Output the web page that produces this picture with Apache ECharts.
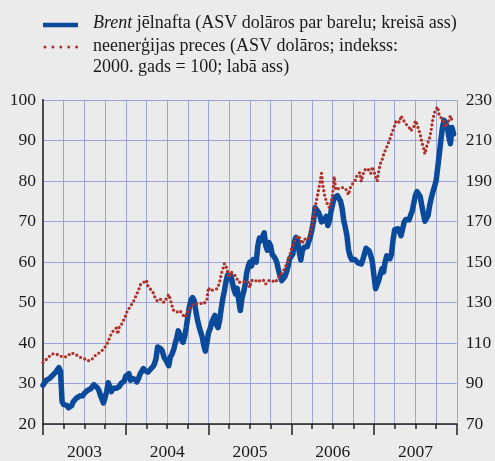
<!DOCTYPE html>
<html>
<head>
<meta charset="utf-8">
<script src="https://cdn.jsdelivr.net/npm/echarts@6/dist/echarts.min.js"></script>
<style>
html, body { margin: 0; padding: 0; background: #ebebeb; }
#chart { width: 495px; height: 461px; }
</style>
</head>
<body>
<div id="chart"></div>
<script>
// gadi uz x ass
var years = [2003, 2004, 2005, 2006, 2007];

// Brent jēlnafta, ASV dolāri par barelu (nedēļas dati, kreisā ass)
var brent2003 = [29.6, 30.2, 30.8, 30.4, 31.2, 31.6, 32.0, 32.4, 32.8, 33.4, 33.9, 33.0, 25.5, 24.8, 25.0, 24.6, 24.0, 23.6, 24.5, 25.5,
    25.8, 26.4, 26.2, 26.9, 27.2, 27.0, 27.6, 28.0, 28.3, 28.0, 28.7, 29.0, 29.7, 29.5, 29.0, 28.4, 27.2, 26.2, 25.2, 26.5,
    28.0, 30.2, 30.0, 28.0, 28.8, 29.2, 28.8, 28.5, 29.3, 30.0, 30.3, 30.6];
var brent2004 = [31.8, 32.2, 32.4, 30.8, 31.3, 31.6, 31.0, 30.4, 31.2, 32.3, 33.0, 33.7, 33.2, 33.3, 32.8, 33.3, 33.6, 34.1, 34.8, 36.1,
    39.0, 39.2, 38.6, 38.0, 36.5, 36.3, 35.2, 34.4, 36.5, 37.2, 38.2, 39.8, 41.2, 43.0, 42.0, 40.8, 40.2, 41.6, 43.8, 46.5,
    49.0, 50.6, 51.2, 50.5, 48.0, 45.8, 44.2, 42.8, 41.6, 39.5, 38.0, 40.0];
var brent2005 = [42.5, 43.5, 45.0, 46.0, 46.8, 44.5, 43.8, 45.6, 48.5, 51.0, 52.9, 55.2, 56.8, 56.0, 56.6, 55.0, 53.2, 52.1, 53.5, 50.5,
    48.0, 51.0, 52.5, 54.2, 57.3, 59.0, 60.0, 59.0, 60.6, 60.3, 60.0, 64.0, 65.9, 65.2, 66.3, 67.2, 64.0, 62.9, 64.8, 64.0,
    61.9, 61.4, 60.8, 59.8, 58.0, 56.5, 55.4, 55.8, 56.4, 57.5, 59.0, 60.8];
var brent2006 = [60.5, 62.0, 65.0, 66.1, 65.3, 62.5, 60.5, 62.8, 63.6, 63.2, 63.8, 65.0, 66.2, 68.0, 70.2, 73.4, 73.0, 72.3, 71.4, 69.9,
    69.8, 70.4, 71.3, 69.0, 70.2, 72.5, 74.3, 75.8, 76.0, 76.4, 76.6, 75.0, 73.2, 70.2, 68.5, 66.5, 63.0, 61.4, 60.6, 60.8,
    60.6, 60.2, 59.8, 59.4, 59.5, 60.6, 62.0, 63.4, 63.4, 62.7, 61.5, 60.0];
var brent2007 = [56.5, 53.4, 53.8, 55.5, 57.0, 58.3, 57.5, 60.0, 61.5, 61.1, 60.8, 62.0, 65.5, 68.0, 68.4, 68.2, 67.5, 66.5, 68.2, 69.9,
    70.5, 70.2, 70.4, 71.5, 72.6, 74.5, 76.4, 77.4, 77.8, 76.2, 74.0, 72.0, 70.1, 69.7, 71.5, 74.0, 75.8, 77.3, 78.6, 80.0,
    83.2, 86.5, 90.0, 93.2, 95.0, 95.3, 93.5, 91.0, 89.2, 93.2, 91.6];

// neenerģijas preces, indekss 2000 = 100 (nedēļas dati, labā ass)
var nonEnergy2003 = [100.4, 101.0, 101.8, 102.6, 103.4, 104.2, 104.6, 104.7, 104.6, 104.4, 104.0, 103.6, 103.2, 103.0, 103.1, 103.6, 104.0, 104.6, 105.2, 105.0,
    104.5, 104.2, 103.6, 103.0, 102.7, 102.4, 102.2, 101.8, 101.2, 100.8, 101.4, 102.0, 103.0, 104.0, 104.6, 105.0, 105.6, 106.2, 106.8, 108.0,
    109.2, 110.8, 113.0, 114.6, 115.8, 116.6, 117.4, 114.4, 118.2, 119.0, 119.8, 122.0];
var nonEnergy2004 = [123.5, 126.0, 127.0, 127.6, 129.5, 130.8, 132.5, 134.4, 135.8, 138.6, 139.2, 139.8, 140.3, 141.0, 138.0, 137.0, 136.2, 135.2, 133.2, 131.6,
    130.6, 130.0, 131.6, 130.8, 130.0, 131.4, 132.4, 134.0, 131.6, 128.6, 126.2, 125.4, 125.2, 125.8, 126.0, 125.0, 124.2, 122.6, 124.0, 125.6,
    127.0, 128.0, 128.8, 129.4, 129.0, 129.4, 129.8, 129.6, 129.4, 129.2, 129.8, 131.5];
var nonEnergy2005 = [137.4, 135.8, 136.2, 136.2, 136.6, 136.6, 138.0, 140.0, 144.0, 146.4, 149.2, 148.0, 145.2, 142.4, 145.2, 144.8, 144.0, 143.0, 142.4, 140.0,
    139.2, 140.0, 140.8, 140.4, 140.0, 140.0, 137.4, 140.8, 141.6, 141.2, 140.8, 140.0, 140.8, 141.2, 141.6, 140.8, 139.2, 140.0, 140.8, 141.2,
    140.8, 141.6, 140.0, 140.8, 142.4, 143.6, 144.0, 145.6, 147.2, 148.8, 150.4, 153.0];
var nonEnergy2006 = [156.0, 158.0, 160.0, 162.0, 163.0, 163.8, 161.4, 159.0, 161.4, 160.6, 161.0, 162.2, 164.6, 168.0, 172.0, 177.0, 181.0, 185.0, 189.0, 193.8,
    187.0, 183.0, 180.0, 178.0, 176.8, 179.2, 183.2, 192.2, 185.6, 184.8, 186.4, 187.2, 186.8, 187.0, 186.4, 185.6, 183.2, 186.4, 188.2, 189.0,
    189.8, 192.2, 193.0, 194.2, 189.8, 193.0, 195.4, 194.6, 196.2, 195.4, 193.8, 197.0];
var nonEnergy2007 = [194.6, 192.2, 190.0, 195.0, 198.6, 200.2, 203.0, 205.0, 206.8, 207.6, 210.8, 213.2, 215.2, 217.4, 219.8, 220.6, 219.0, 222.2, 220.6, 219.8,
    218.2, 219.0, 216.6, 214.8, 214.0, 216.6, 219.8, 218.2, 215.6, 213.2, 209.2, 206.8, 203.4, 206.8, 209.2, 211.6, 215.6, 220.6, 223.8, 225.4,
    226.6, 222.2, 223.0, 220.6, 219.0, 216.6, 217.4, 219.8, 222.2, 220.0, 221.0];

// nedēļas vērtības -> [mēneši kopš 2003. gada janvāra, vērtība]
function toPoints(values, yearIndex) {
    var points = [];
    for (var i = 0; i < values.length; i++) {
        points.push([yearIndex * 12 + i * 12 / 52, values[i]]);
    }
    return points;
}

var brentData = [].concat(toPoints(brent2003, 0), toPoints(brent2004, 1), toPoints(brent2005, 2),
    toPoints(brent2006, 3), toPoints(brent2007, 4));
var nonEnergyData = [].concat(toPoints(nonEnergy2003, 0), toPoints(nonEnergy2004, 1), toPoints(nonEnergy2005, 2),
    toPoints(nonEnergy2006, 3), toPoints(nonEnergy2007, 4));

var font = '"Liberation Serif", "Times New Roman", serif';
var textColor = '#1a1a1a';
var gridColor = '#98a4da';
var blue = '#0b4a9a';
var red = '#b0322a';

var myChart = echarts.init(document.getElementById('chart'));

var option = {
    backgroundColor: '#ebebeb',
    animation: false,
    grid: { left: 43, right: 38, top: 100, bottom: 33 },
    xAxis: [{
        type: 'value',
        min: 0,
        max: 60,
        interval: 3,
        axisLine: { show: true, onZero: false, lineStyle: { color: '#222', width: 1.5 } },
        axisTick: { show: true, length: 5, lineStyle: { color: '#222', width: 1.5 } },
        axisLabel: {
            margin: 19,
            fontFamily: font,
            fontSize: 17.5,
            color: textColor,
            formatter: function (v) {
                return v % 12 === 6 ? String(years[(v - 6) / 12]) : '';
            }
        },
        splitLine: { show: true, lineStyle: { color: gridColor, width: 1 } }
    }, {
        // garākās iedaļas gadu robežās
        type: 'value',
        min: 0,
        max: 60,
        interval: 12,
        position: 'bottom',
        axisLine: { show: false },
        axisTick: { show: true, length: 11, lineStyle: { color: '#222', width: 1.5 } },
        axisLabel: { show: false },
        splitLine: { show: false }
    }],
    yAxis: [{
        type: 'value',
        min: 20,
        max: 100,
        interval: 10,
        position: 'left',
        axisLine: { show: true, lineStyle: { color: '#333', width: 2 } },
        axisTick: { show: false },
        axisLabel: { margin: 7, fontFamily: font, fontSize: 17.5, color: textColor },
        splitLine: { show: true, lineStyle: { color: gridColor, width: 1 } }
    }, {
        type: 'value',
        min: 70,
        max: 230,
        interval: 20,
        position: 'right',
        axisLine: { show: true, lineStyle: { color: '#555', width: 1.5 } },
        axisTick: { show: false },
        axisLabel: { margin: 9, fontFamily: font, fontSize: 17.5, color: textColor },
        splitLine: { show: false }
    }],
    graphic: [
        { type: 'line', shape: { x1: 43, y1: 25, x2: 78, y2: 25 }, style: { stroke: blue, lineWidth: 4.5 } },
        { type: 'line', shape: { x1: 45, y1: 47, x2: 78, y2: 47 }, style: { stroke: red, lineWidth: 3, lineDash: [0, 7.9], lineCap: 'round' } },
        {
            type: 'text', left: 93, top: 14,
            style: {
                text: '{i|Brent} jēlnafta (ASV dolāros par barelu; kreisā ass)',
                font: '18px ' + font,
                fill: textColor,
                rich: { i: { fontStyle: 'italic', fontFamily: font, fontSize: 18, fill: textColor } }
            }
        },
        {
            type: 'text', left: 93, top: 36,
            style: {
                text: 'neenerģijas preces (ASV dolāros; indekss:\n2000. gads = 100; labā ass)',
                font: '18px ' + font,
                lineHeight: 21,
                fill: textColor
            }
        }
    ],
    series: [{
        name: 'Brent jēlnafta',
        type: 'line',
        xAxisIndex: 0,
        yAxisIndex: 0,
        data: brentData,
        symbol: 'none',
        showSymbol: false,
        lineStyle: { color: blue, width: 5.5, join: 'round', cap: 'round' },
        z: 2
    }, {
        name: 'neenerģijas preces',
        type: 'line',
        xAxisIndex: 0,
        yAxisIndex: 1,
        data: nonEnergyData,
        symbol: 'none',
        showSymbol: false,
        lineStyle: { color: red, width: 3.3, type: [0, 4.4], cap: 'round' },
        z: 3
    }]
};

myChart.setOption(option);
</script>
</body>
</html>
